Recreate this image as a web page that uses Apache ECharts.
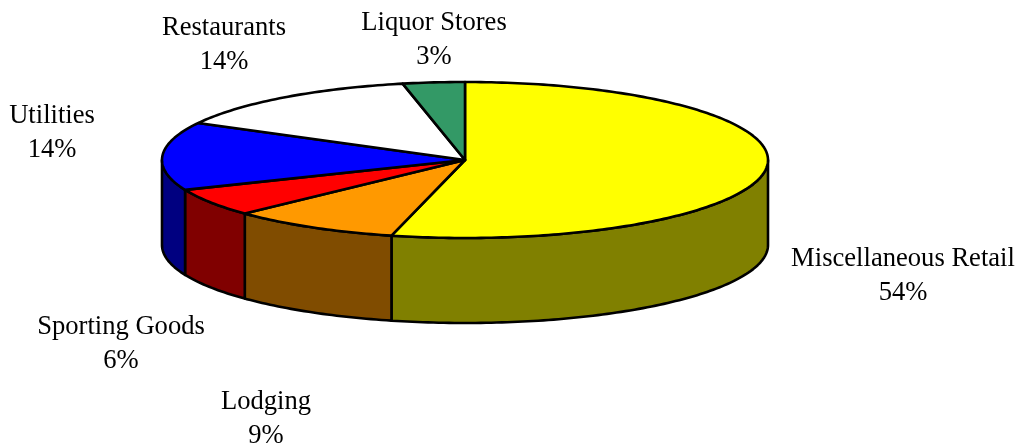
<!DOCTYPE html>
<html>
<head>
<meta charset="utf-8">
<style>
  html, body { margin: 0; padding: 0; background: #fff; }
  #chart { width: 1021px; height: 446px; }
</style>
<script src="https://cdn.jsdelivr.net/npm/echarts@6/dist/echarts.min.js"></script>
</head>
<body>
<div id="chart"></div>
<script>
const categories = ['Miscellaneous Retail', 'Lodging', 'Sporting Goods', 'Utilities', 'Restaurants', 'Liquor Stores']
const shares = [53.9, 9.05, 5.8, 14.1, 13.85, 3.3]
const topColors = ['#ffff00', '#ff9900', '#ff0000', '#0000ff', '#ffffff', '#339966']
const sideColors = ['#808000', '#804c00', '#800000', '#000080', '#808080', '#1a4d33']

// layout of the tilted disc, and where each label block is centred
const cx = 465, cy = 160, rx = 303, ry = 78, depth = 85
const labelCenters = [[903, 276], [266, 419], [121, 344], [52, 133], [224, 45], [434, 40]]

const total = shares.reduce((a, b) => a + b, 0)
const startAngle = i => shares.slice(0, i).reduce((a, b) => a + b, 0) / total * 360

// angle is clockwise from 12 o'clock
const rim = (deg, drop = 0) => {
  const r = deg * Math.PI / 180
  return [cx + rx * Math.sin(r), cy - ry * Math.cos(r) + drop]
}

const arc = (from, to, drop = 0) => {
  const pts = []
  for (let a = from; a < to; a += 1) pts.push(rim(a, drop))
  pts.push(rim(to, drop))
  return pts
}

const renderSlice = (params, api) => {
  const i = params.dataIndex
  const from = startAngle(i)
  const to = from + api.value(0) / total * 360
  const children = []
  const lineStyle = { stroke: '#000', lineWidth: 2.6, lineJoin: 'round' }

  // only the part of a slice on the near half of the disc shows a wall
  const wallFrom = Math.max(from, 90)
  const wallTo = Math.min(to, 270)
  if (wallFrom < wallTo) {
    children.push({
      type: 'polygon',
      z2: 1,
      shape: { points: arc(wallFrom, wallTo).concat(arc(wallFrom, wallTo, depth).reverse()) },
      style: { fill: sideColors[i], ...lineStyle }
    })
  }

  children.push({
    type: 'polygon',
    z2: 2,
    shape: { points: [[cx, cy]].concat(arc(from, to)) },
    style: { fill: topColors[i], ...lineStyle }
  })

  children.push({
    type: 'text',
    z2: 3,
    style: {
      text: categories[i] + '\n' + Math.round(api.value(0) / total * 100) + '%',
      x: labelCenters[i][0],
      y: labelCenters[i][1],
      align: 'center',
      verticalAlign: 'middle',
      lineHeight: 34,
      fontFamily: '"Liberation Serif", "Times New Roman", serif',
      fontSize: 26.6,
      fill: '#000'
    }
  })

  return { type: 'group', children }
}

const chart = echarts.init(document.getElementById('chart'))
chart.setOption({
  animation: false,
  backgroundColor: '#fff',
  series: [{
    type: 'custom',
    coordinateSystem: 'none',
    silent: true,
    data: shares,
    renderItem: renderSlice
  }]
})
</script>
</body>
</html>
